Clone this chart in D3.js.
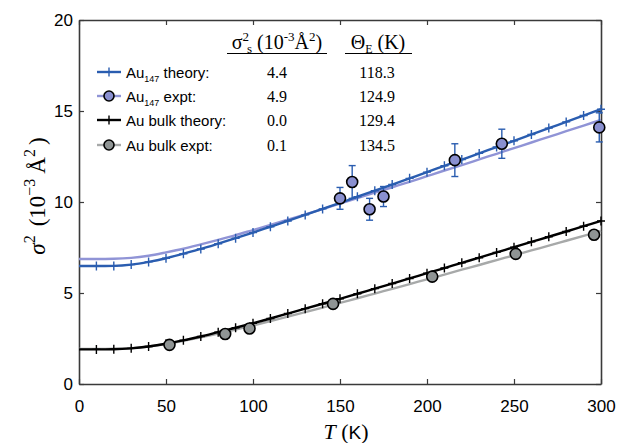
<!DOCTYPE html>
<html>
    <script src="https://d3js.org/d3.v7.min.js"></script>
    <style>
        body {margin: 0; background: white;}
        .tick text {font-family: "Liberation Sans", Arial, sans-serif; font-size: 17px; fill: black;}
        .serif {font-family: "Liberation Serif", "Times New Roman", serif;}
        .sans {font-family: "Liberation Sans", Arial, sans-serif;}
    </style>
    <body>
    <svg width="619" height="443"></svg>
    <script>
        // temperature grid used for the model curves (K)
        const tGrid = [0, 10, 20, 30, 40, 50, 60, 70, 80, 90, 100, 110, 120, 130, 140, 150,
                       160, 170, 180, 190, 200, 210, 220, 230, 240, 250, 260, 270, 280, 290, 300];

        // sigma^2 (10^-3 A^2)
        const au147Theory = [6.48, 6.48, 6.49, 6.56, 6.71, 6.91, 7.16, 7.42, 7.71, 8.01, 8.32, 8.64, 8.96, 9.29, 9.62, 9.95,
                             10.29, 10.62, 10.96, 11.30, 11.64, 11.99, 12.33, 12.67, 13.02, 13.36, 13.71, 14.06, 14.40, 14.75, 15.10];
        const au147Fit = [6.87, 6.87, 6.88, 6.93, 7.05, 7.23, 7.43, 7.67, 7.92, 8.18, 8.46, 8.74, 9.03, 9.32, 9.61, 9.91,
                          10.21, 10.51, 10.81, 11.11, 11.42, 11.73, 12.03, 12.34, 12.65, 12.96, 13.27, 13.58, 13.89, 14.20, 14.51];
        const bulkTheory = [1.90, 1.90, 1.91, 1.96, 2.06, 2.21, 2.40, 2.61, 2.85, 3.09, 3.34, 3.60, 3.87, 4.14, 4.41, 4.68,
                            4.96, 5.24, 5.52, 5.80, 6.09, 6.37, 6.66, 6.94, 7.23, 7.52, 7.81, 8.09, 8.38, 8.67, 8.96];
        const bulkFit = [1.93, 1.93, 1.94, 1.97, 2.06, 2.20, 2.37, 2.56, 2.77, 2.99, 3.22, 3.46, 3.70, 3.95, 4.20, 4.46,
                         4.71, 4.97, 5.23, 5.49, 5.75, 6.01, 6.28, 6.54, 6.81, 7.07, 7.34, 7.60, 7.87, 8.14, 8.41];

        // experimental points
        const au147ExptT = [150, 157, 167, 175, 216, 243, 299];
        const au147ExptS = [10.2, 11.1, 9.6, 10.3, 12.3, 13.2, 14.1];
        const au147ExptErr = [0.6, 0.9, 0.6, 0.55, 0.9, 0.8, 0.8];
        const bulkExptT = [52, 84, 98, 146, 203, 251, 296];
        const bulkExptS = [2.15, 2.75, 3.05, 4.4, 5.9, 7.15, 8.2];

        // legend table
        const legendLabels = ["theory:", "expt:", "Au bulk theory:", "Au bulk expt:"];
        const staticVals = ["4.4", "4.9", "0.0", "0.1"];
        const thetaVals = ["118.3", "124.9", "129.4", "134.5"];

        const xTicks = [0, 50, 100, 150, 200, 250, 300];
        const yTicks = [0, 5, 10, 15, 20];

        const blue = "#2a5db0", lightBlue = "#9094d6", blueFill = "#8a90d0";
        const grey = "#a7a9a9", greyFill = "#8f9494", axisColor = "#3a3a3a";

        const svg = d3.select("svg");
        const plotL = 79, plotR = 601, plotT = 20, plotB = 384;

        const x = d3.scaleLinear().domain([0, 300]).range([plotL, plotR]);
        const y = d3.scaleLinear().domain([0, 20]).range([plotB, plotT]);

        // axes, ticks pointing inward on all four sides
        function styleAxis(g) {
            g.selectAll("path.domain").attr("stroke", axisColor).attr("stroke-width", 1.6);
            g.selectAll(".tick line").attr("stroke", axisColor).attr("stroke-width", 1.2);
        }
        svg.append("g").attr("transform", `translate(0,${plotB})`)
            .call(d3.axisBottom(x).tickValues(xTicks).tickSizeInner(-5).tickSizeOuter(0).tickPadding(16))
            .call(styleAxis)
            .call(g => g.attr("font-family", null).attr("font-size", null));
        svg.append("g").attr("transform", `translate(${plotL},0)`)
            .call(d3.axisLeft(y).tickValues(yTicks).tickSizeInner(-5).tickSizeOuter(0).tickPadding(6))
            .call(styleAxis)
            .call(g => g.attr("font-family", null).attr("font-size", null));
        svg.append("g").attr("transform", `translate(0,${plotT})`)
            .call(d3.axisTop(x).tickValues(xTicks).tickSizeInner(-5).tickSizeOuter(0).tickFormat(""))
            .call(styleAxis);
        svg.append("g").attr("transform", `translate(${plotR},0)`)
            .call(d3.axisRight(y).tickValues(yTicks).tickSizeInner(-5).tickSizeOuter(0).tickFormat(""))
            .call(styleAxis);

        // curves
        const line = d3.line().x(d => x(d[0])).y(d => y(d[1])).curve(d3.curveMonotoneX);
        function drawCurve(vals, color, width) {
            svg.append("path")
                .datum(tGrid.map((t, i) => [t, vals[i]]))
                .attr("d", line)
                .attr("fill", "none")
                .attr("stroke", color)
                .attr("stroke-width", width);
        }
        drawCurve(bulkFit, grey, 2.4);
        drawCurve(au147Fit, lightBlue, 2.4);
        drawCurve(bulkTheory, "black", 2.4);
        drawCurve(au147Theory, blue, 2.4);

        // plus markers on the theory curves
        const plusPath = "M-4,0H4M0,-4.5V4.5";
        function drawPlus(vals, color) {
            svg.append("g").selectAll("path")
                .data(tGrid.map((t, i) => [t, vals[i]]).filter(d => d[0] > 0))
                .enter().append("path")
                .attr("d", plusPath)
                .attr("transform", d => `translate(${x(d[0])},${y(d[1])})`)
                .attr("stroke", color)
                .attr("stroke-width", 1.4);
        }
        drawPlus(bulkTheory, "black");
        drawPlus(au147Theory, blue);

        // error bars for Au147
        const au147Pts = au147ExptT.map((t, i) => ({t: t, s: au147ExptS[i], e: au147ExptErr[i]}));
        const eb = svg.append("g").attr("stroke", blue).attr("stroke-width", 1.4);
        au147Pts.forEach(d => {
            eb.append("line").attr("x1", x(d.t)).attr("x2", x(d.t)).attr("y1", y(d.s - d.e)).attr("y2", y(d.s + d.e));
            [d.s - d.e, d.s + d.e].forEach(v => {
                eb.append("line").attr("x1", x(d.t) - 3.5).attr("x2", x(d.t) + 3.5).attr("y1", y(v)).attr("y2", y(v));
            });
        });

        // experimental circles
        svg.append("g").selectAll("circle")
            .data(bulkExptT.map((t, i) => [t, bulkExptS[i]]))
            .enter().append("circle")
            .attr("cx", d => x(d[0])).attr("cy", d => y(d[1])).attr("r", 5.5)
            .attr("fill", greyFill).attr("stroke", "black").attr("stroke-width", 1.6);
        svg.append("g").selectAll("circle")
            .data(au147Pts)
            .enter().append("circle")
            .attr("cx", d => x(d.t)).attr("cy", d => y(d.s)).attr("r", 5.5)
            .attr("fill", blueFill).attr("stroke", "black").attr("stroke-width", 1.6);

        // legend
        const rowY = [72, 96, 120, 145];
        const legendStyles = [
            {color: blue, plus: true},
            {color: lightBlue, circle: blueFill},
            {color: "black", plus: true},
            {color: grey, circle: greyFill}
        ];
        legendStyles.forEach((st, i) => {
            const ry = rowY[i];
            svg.append("line").attr("x1", 97).attr("x2", 121).attr("y1", ry).attr("y2", ry)
                .attr("stroke", st.color).attr("stroke-width", 2.4);
            if (st.plus) {
                svg.append("path").attr("d", plusPath).attr("transform", `translate(109,${ry})`)
                    .attr("stroke", st.color).attr("stroke-width", 1.4);
            } else {
                svg.append("circle").attr("cx", 109).attr("cy", ry).attr("r", 5)
                    .attr("fill", st.circle).attr("stroke", "black").attr("stroke-width", 1.6);
            }
            const t = svg.append("text").attr("class", "sans").attr("x", 126).attr("y", ry + 5.5)
                .attr("font-size", 15).attr("fill", "black");
            if (i < 2) {
                t.append("tspan").text("Au");
                t.append("tspan").attr("font-size", 9).attr("dy", 4).text("147");
                t.append("tspan").attr("dy", -4).text(" " + legendLabels[i]);
            } else {
                t.text(legendLabels[i]);
            }
            svg.append("text").attr("class", "serif").attr("x", 277).attr("y", ry + 5.5)
                .attr("text-anchor", "middle").attr("font-size", 16).text(staticVals[i]);
            svg.append("text").attr("class", "serif").attr("x", 377).attr("y", ry + 5.5)
                .attr("text-anchor", "middle").attr("font-size", 16).text(thetaVals[i]);
        });

        // table headers
        const h1 = svg.append("text").attr("class", "serif").attr("x", 277).attr("y", 49)
            .attr("text-anchor", "middle").attr("font-size", 20);
        h1.append("tspan").text("σ");
        h1.append("tspan").attr("font-size", 13).attr("dy", -8).text("2");
        h1.append("tspan").attr("font-size", 13).attr("dx", -2).attr("dy", 12).text("s");
        h1.append("tspan").attr("dy", -4).text(" (10");
        h1.append("tspan").attr("font-size", 13).attr("dy", -8).text("-3");
        h1.append("tspan").attr("dy", 8).text("Å");
        h1.append("tspan").attr("font-size", 13).attr("dy", -8).text("2");
        h1.append("tspan").attr("dy", 8).text(")");
        svg.append("line").attr("x1", 227).attr("x2", 327).attr("y1", 53.5).attr("y2", 53.5)
            .attr("stroke", "black").attr("stroke-width", 1.2);

        const h2 = svg.append("text").attr("class", "serif").attr("x", 378).attr("y", 49)
            .attr("text-anchor", "middle").attr("font-size", 20);
        h2.append("tspan").text("Θ");
        h2.append("tspan").attr("font-size", 12).attr("dy", 4).text("E");
        h2.append("tspan").attr("dy", -4).text(" (K)");
        svg.append("line").attr("x1", 345).attr("x2", 412).attr("y1", 53.5).attr("y2", 53.5)
            .attr("stroke", "black").attr("stroke-width", 1.2);

        // axis titles
        const xl = svg.append("text").attr("x", 346).attr("y", 439).attr("text-anchor", "middle")
            .attr("font-size", 22).attr("class", "serif");
        xl.append("tspan").attr("font-style", "italic").text("T");
        xl.append("tspan").text(" (");
        xl.append("tspan").attr("class", "sans").attr("font-size", 19).text("K");
        xl.append("tspan").text(")");

        const yl = svg.append("text").attr("class", "serif").attr("font-size", 23)
            .attr("text-anchor", "middle")
            .attr("transform", "translate(45,196) rotate(-90)");
        yl.append("tspan").attr("font-style", "italic").text("σ");
        yl.append("tspan").attr("font-size", 16).attr("dy", -10).text("2");
        yl.append("tspan").attr("dy", 10).attr("dx", 9).text("(10");
        yl.append("tspan").attr("font-size", 16).attr("dy", -10).text("−3");
        yl.append("tspan").attr("dy", 10).attr("dx", 5).text("Å");
        yl.append("tspan").attr("font-size", 16).attr("dy", -10).text("2");
        yl.append("tspan").attr("dy", 10).attr("dx", 4).text(")");
    </script>
    </body>
</html>
